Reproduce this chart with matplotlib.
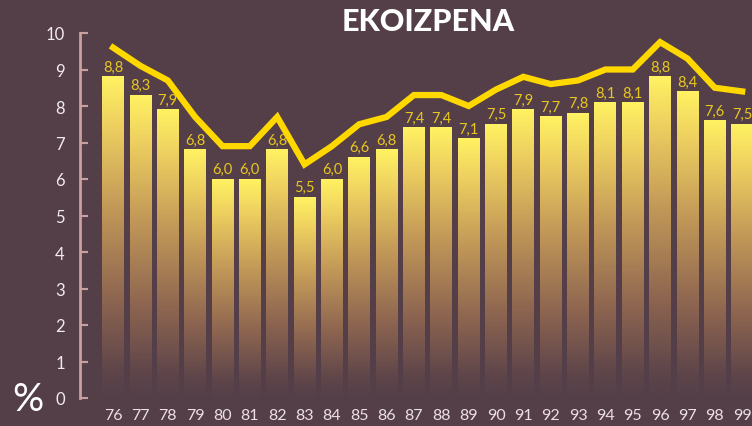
import numpy as np
import matplotlib.pyplot as plt
from matplotlib.colors import LinearSegmentedColormap

# urteak eta balioak
years = ['76', '77', '78', '79', '80', '81', '82', '83', '84', '85', '86', '87',
         '88', '89', '90', '91', '92', '93', '94', '95', '96', '97', '98', '99']
bar_values = [8.8, 8.3, 7.9, 6.8, 6.0, 6.0, 6.8, 5.5, 6.0, 6.6, 6.8, 7.4,
              7.4, 7.1, 7.5, 7.9, 7.7, 7.8, 8.1, 8.1, 8.8, 8.4, 7.6, 7.5]
bar_labels = ['8,8', '8,3', '7,9', '6,8', '6,0', '6,0', '6,8', '5,5', '6,0', '6,6', '6,8', '7,4',
              '7,4', '7,1', '7,5', '7,9', '7,7', '7,8', '8,1', '8,1', '8,8', '8,4', '7,6', '7,5']
line_values = [9.6, 9.1, 8.7, 7.7, 6.9, 6.9, 7.7, 6.4, 6.9, 7.5, 7.7, 8.3,
               8.3, 8.0, 8.45, 8.8, 8.6, 8.7, 9.0, 9.0, 9.75, 9.3, 8.5, 8.4]

bg = '#543f49'
plt.rcParams['font.family'] = ['Lato', 'DejaVu Sans']

fig = plt.figure(figsize=(7.52, 4.27), dpi=100, facecolor=bg)
ax = fig.add_axes([80 / 752, 28 / 427, 672 / 752, 365 / 427])
ax.set_facecolor(bg)

cmap = LinearSegmentedColormap.from_list(
    'bars', [(0.0, bg), (0.08, '#5e454a'), (0.3, '#8c6450'),
             (0.6, '#c49a58'), (0.85, '#eed060'), (1.0, '#fff262')])
grad = np.linspace(0, 1, 256).reshape(-1, 1)

x = np.arange(len(years))
w = 0.8
for xi, v, lab in zip(x, bar_values, bar_labels):
    ax.imshow(grad, cmap=cmap, origin='lower', aspect='auto',
              extent=(xi - w / 2, xi + w / 2, 0, v), zorder=2)
    ax.text(xi, v + 0.08, lab, ha='center', va='bottom', color='#e8c81e',
            fontsize=10.5, zorder=4)

ax.plot(x, line_values, color='#ffd800', lw=4.5, solid_joinstyle='miter', zorder=3)

ax.set_xlim(-1.21, 23.36)
ax.set_ylim(0, 10)
ax.set_xticks(x)
ax.set_xticklabels(years)
ax.set_yticks(range(0, 11))
ax.tick_params(axis='x', length=0, pad=7, labelsize=11.5, labelcolor='#ece0e4')
ax.tick_params(axis='y', direction='in', length=6, width=1.5, color='#c9a0a2',
               pad=11, labelsize=12, labelcolor='#f2eaee')
for s in ['top', 'right', 'bottom']:
    ax.spines[s].set_visible(False)
ax.spines['left'].set_color('#c9a0a2')
ax.spines['left'].set_linewidth(2)

fig.text(428 / 752, 1 - 22 / 427, 'EKOIZPENA', ha='center', va='center',
         color='white', fontsize=22, fontweight='black')
fig.text(28 / 752, 1 - 400 / 427, '%', ha='center', va='center',
         color='white', fontsize=28)

fig.savefig('out.png', dpi=100, facecolor=bg)
